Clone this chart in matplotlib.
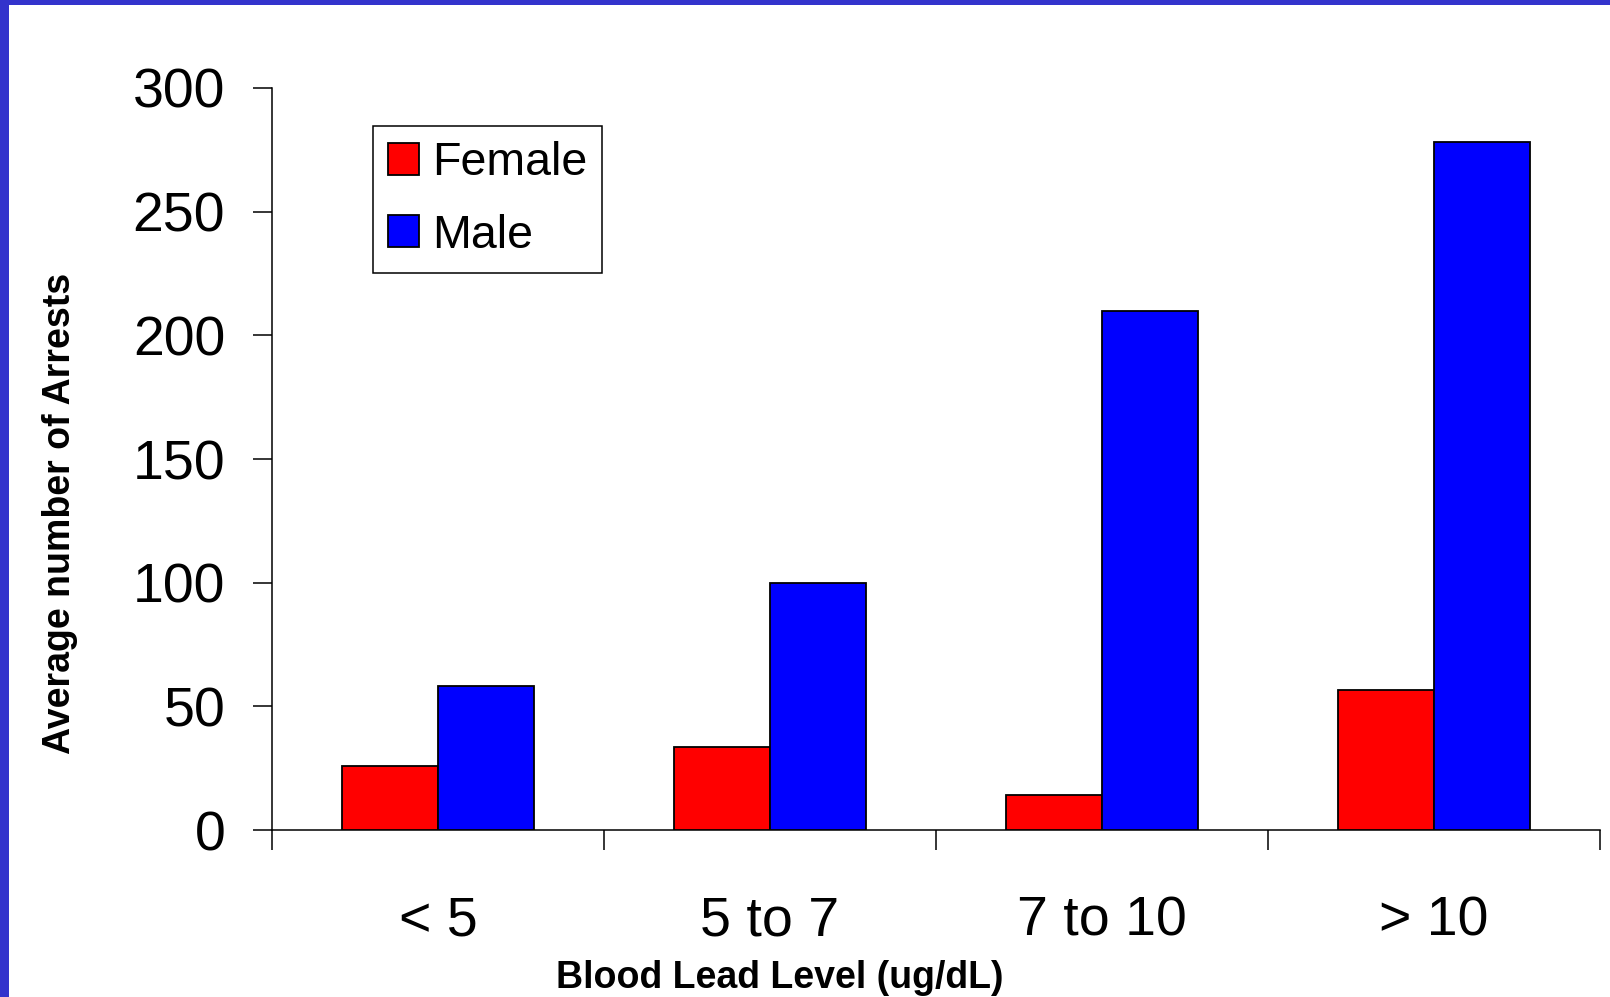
import matplotlib
matplotlib.use("Agg")
import matplotlib.pyplot as plt
from matplotlib.patches import Rectangle
import numpy as np

categories = ["< 5", "5 to 7", "7 to 10", "> 10"]
female = [26.0, 33.7, 14.3, 56.6]
male = [58.3, 99.7, 209.8, 278.2]
series_names = ["Female", "Male"]
y_ticks = [0, 50, 100, 150, 200, 250, 300]

W, H = 1610, 997
plt.rcParams["font.family"] = ["Liberation Sans", "DejaVu Sans"]

fig = plt.figure(figsize=(W / 100, H / 100), dpi=100)
fig.patch.set_facecolor("white")

# slide frame in blue along the top and left edges
fig.patches.append(Rectangle((0, 1 - 5 / H), 1, 5 / H, transform=fig.transFigure,
                             facecolor="#3333CC", edgecolor="none", zorder=0))
fig.patches.append(Rectangle((0, 0), 9 / W, 1, transform=fig.transFigure,
                             facecolor="#3333CC", edgecolor="none", zorder=0))

ax_l, ax_r, ax_top, ax_bot = 272, 1600, 88, 830
ax = fig.add_axes([ax_l / W, 1 - ax_bot / H, (ax_r - ax_l) / W, (ax_bot - ax_top) / H])

x = np.arange(len(categories))
bw = 0.29
lw = 1.3
ax.bar(x - bw / 2, female, bw, color="#FF0000", edgecolor="black", linewidth=lw,
       label=series_names[0], zorder=3)
ax.bar(x + bw / 2, male, bw, color="#0000FF", edgecolor="black", linewidth=lw,
       label=series_names[1], zorder=3)

ax.set_xlim(-0.5, len(categories) - 0.5)
ax.set_ylim(0, 300)

for s in ["top", "right"]:
    ax.spines[s].set_visible(False)
for s in ["left", "bottom"]:
    ax.spines[s].set_linewidth(1.1)

ax.set_yticks(y_ticks)
ax.set_yticklabels([str(v) for v in y_ticks])
ax.tick_params(axis="y", direction="out", length=13.7, width=1.1, pad=20, labelsize=40)

ax.set_xticks(x)
ax.set_xticklabels(categories)
ax.tick_params(axis="x", which="major", length=0, pad=47, labelsize=40)
ax.set_xticks(np.arange(len(categories) + 1) - 0.5, minor=True)
ax.tick_params(axis="x", which="minor", direction="out", length=14.4, width=1.1)
ax.spines["left"].set_bounds(0, 300)

fig.text(780 / W, 1 - 978 / H, "Blood Lead Level (ug/dL)", ha="center", va="center",
         fontsize=27, fontweight="bold")
fig.text(60 / W, 1 - 513 / H, "Average number of Arrests", ha="center", va="center",
         rotation=90, fontsize=27, fontweight="bold")

leg = ax.legend(loc="upper left", bbox_to_anchor=(373 / W, 1 - 126 / H),
                bbox_transform=fig.transFigure, fontsize=33.5, frameon=True,
                fancybox=False, framealpha=1, edgecolor="black",
                handlelength=0.66, handleheight=0.68, handletextpad=0.28,
                borderpad=0.32, labelspacing=0.62, borderaxespad=0)
leg.get_frame().set_linewidth(1.1)

fig.savefig("out.png", dpi=100, facecolor="white")
